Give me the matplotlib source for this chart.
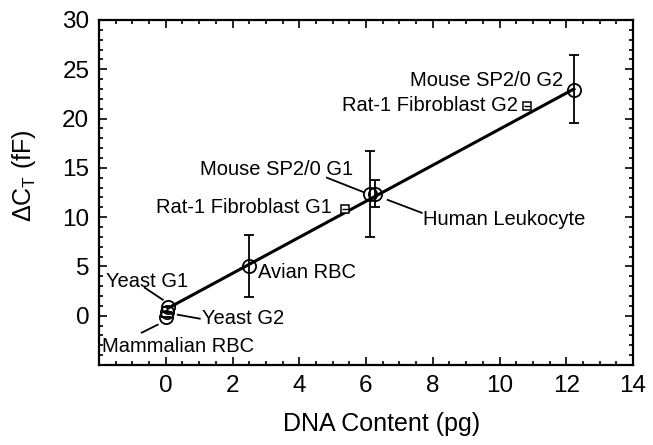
import numpy as np
import matplotlib
matplotlib.use("Agg")
from matplotlib import pyplot as plt
from matplotlib.ticker import MultipleLocator

plt.rcParams['font.family'] = ['Liberation Sans', 'DejaVu Sans']
plt.rcParams['mathtext.fontset'] = 'custom'
plt.rcParams['mathtext.rm'] = 'Liberation Sans'
plt.rcParams['mathtext.it'] = 'Liberation Sans'

# circle samples: DNA content (pg), delta C_T (fF), error (low, high)
circ_names = ["Yeast G1", "Yeast G2", "Mammalian RBC", "Avian RBC",
              "Mouse SP2/0 G1", "Human Leukocyte", "Mouse SP2/0 G2"]
circ_x = [0.06, 0.03, 0.0, 2.49, 6.12, 6.27, 12.23]
circ_y = [0.9, 0.4, -0.1, 5.0, 12.35, 12.35, 22.9]
err_lo = [0.0, 0.0, 0.0, 3.1, 4.35, 1.35, 3.3]
err_hi = [0.0, 0.0, 0.0, 3.2, 4.4, 1.45, 3.5]

# square samples
sq_names = ["Rat-1 Fibroblast G1", "Rat-1 Fibroblast G2"]
sq_x = [5.37, 10.82]
sq_y = [10.8, 21.3]

# fitted line ends
fit_x = [0.06, 12.23]
fit_y = [0.75, 23.0]

# label text positions and leader lines
labels = [
    ("Mouse SP2/0 G2", 11.9, 23.9, 'right', None),
    ("Rat-1 Fibroblast G2", 10.55, 21.3, 'right', None),
    ("Mouse SP2/0 G1", 5.61, 14.8, 'right', ((4.83, 14.0), (5.91, 12.56))),
    ("Rat-1 Fibroblast G1", 4.98, 10.94, 'right', None),
    ("Human Leukocyte", 7.70, 9.73, 'left', ((6.65, 11.75), (7.67, 10.44))),
    ("Avian RBC", 2.76, 4.36, 'left', None),
    ("Yeast G1", -1.80, 3.44, 'left', ((-0.63, 2.84), (-0.09, 1.62))),
    ("Yeast G2", 1.08, -0.30, 'left', ((0.36, 0.1), (1.02, -0.30))),
    ("Mammalian RBC", -1.92, -3.14, 'left', ((-0.72, -1.72), (-0.24, -0.91))),
]

fig = plt.figure(figsize=(6.53, 4.45), dpi=100)
ax = fig.add_axes([99/653, 1-365/445, (633-99)/653, (365-20)/445])

ax.plot(fit_x, fit_y, color='black', lw=2.2, zorder=2)

ax.errorbar(circ_x, circ_y, yerr=[err_lo, err_hi], fmt='none', ecolor='black',
            elinewidth=1.3, capsize=3.5, capthick=1.3, zorder=3)
ax.plot(circ_x, circ_y, 'o', ms=9.5, mfc='none', mec='black', mew=1.3, zorder=4)
ax.plot(sq_x, sq_y, 's', ms=6, mfc='white', mec='black', mew=1.1, zorder=4)
ax.plot(sq_x, sq_y, '_', ms=5, mec='black', mew=1.0, zorder=5)

for txt, tx, ty, ha, lead in labels:
    ax.text(tx, ty, txt, ha=ha, va='center', fontsize=14.5, zorder=6)
    if lead is not None:
        ax.plot([lead[0][0], lead[1][0]], [lead[0][1], lead[1][1]],
                color='black', lw=1.3, zorder=6)

ax.set_xlim(-2, 14)
ax.set_ylim(-5, 30)
ax.set_xticks([0, 2, 4, 6, 8, 10, 12, 14])
ax.set_yticks([0, 5, 10, 15, 20, 25, 30])
ax.xaxis.set_minor_locator(MultipleLocator(0.5))
ax.yaxis.set_minor_locator(MultipleLocator(1))
ax.tick_params(which='both', direction='in', top=True, right=True, width=1.2)
ax.tick_params(which='major', length=6, labelsize=17.5, pad=7)
ax.tick_params(which='minor', length=3)
for s in ax.spines.values():
    s.set_linewidth(1.6)

ax.set_xlabel("DNA Content (pg)", fontsize=18)
ax.set_ylabel(r"ΔC$_{\mathrm{T}}$ (fF)", fontsize=18)
ax.xaxis.set_label_coords(0.53, -0.135)
ax.yaxis.set_label_coords(-0.115, 0.55)

fig.savefig("out.png", dpi=100)
